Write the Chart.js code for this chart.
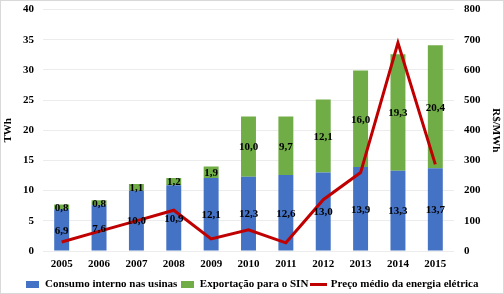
<!DOCTYPE html>
<html>
<head>
<meta charset="utf-8">
<script src="https://cdn.jsdelivr.net/npm/chart.js@4.4.0/dist/chart.umd.min.js"></script>
<style>
  html, body { margin: 0; padding: 0; background: #fff; }
  #wrap { width: 504px; height: 294px; }
</style>
</head>
<body>
<div id="wrap"><canvas id="myChart" width="504" height="294"></canvas></div>
<script>
// data
const years = ['2005', '2006', '2007', '2008', '2009', '2010', '2011', '2012', '2013', '2014', '2015'];
const consumoInterno = [6.9, 7.6, 10.0, 10.9, 12.1, 12.3, 12.6, 13.0, 13.9, 13.3, 13.7];
const exportacaoSin = [0.8, 0.8, 1.1, 1.2, 1.9, 10.0, 9.7, 12.1, 16.0, 19.3, 20.4];
const precoMedio = [30, 65, 100, 135, 40, 70, 27, 170, 260, 690, 287];

const serif = "'Liberation Serif', 'Times New Roman', serif";
const BLUE = '#4472C4', GREEN = '#70AD47', RED = '#C00000';

// little legend markers (rect for bars, thick stroke for the line)
function marker(w, h, color) {
    const c = document.createElement('canvas');
    c.width = w; c.height = h;
    const g = c.getContext('2d');
    g.fillStyle = color;
    g.fillRect(0, 0, w, h);
    return c;
}

// draws the numbers inside each bar segment
const barLabels = {
    id: 'barLabels',
    afterDatasetsDraw(chart) {
        const ctx = chart.ctx;
        ctx.save();
        ctx.font = 'bold 11px ' + serif;
        ctx.fillStyle = '#000';
        ctx.textAlign = 'center';
        ctx.textBaseline = 'middle';
        chart.data.datasets.forEach((ds, i) => {
            if (ds.type === 'line') return;
            chart.getDatasetMeta(i).data.forEach((bar, j) => {
                const txt = ds.data[j].toFixed(1).replace('.', ',');
                ctx.fillText(txt, bar.x, (bar.y + bar.base) / 2 + 1);
            });
        });
        ctx.restore();
    }
};

// light frame around the chart like the original
const frame = {
    id: 'frame',
    beforeDraw(chart) {
        const ctx = chart.ctx;
        ctx.save();
        ctx.fillStyle = '#fff';
        ctx.fillRect(0, 0, chart.width, chart.height);
        ctx.strokeStyle = '#d9d9d9';
        ctx.lineWidth = 1;
        ctx.strokeRect(0.5, 0.5, chart.width - 1, chart.height - 1);
        ctx.restore();
    },
    // nudge the legend row down a bit, closer to the bottom edge
    afterLayout(chart) {
        if (!chart.legend) return;
        chart.legend.top += 6;
        chart.legend.bottom += 6;
    }
};

const tickFont = { family: serif, size: 11, weight: 'bold' };

new Chart(document.getElementById('myChart'), {
    data: {
        labels: years,
        datasets: [
            {
                type: 'line',
                label: 'Preço médio da energia elétrica',
                data: precoMedio,
                yAxisID: 'y1',
                borderColor: RED,
                backgroundColor: RED,
                borderWidth: 3,
                pointRadius: 0,
                tension: 0,
                order: 0
            },
            {
                type: 'bar',
                label: 'Consumo interno nas usinas',
                data: consumoInterno,
                backgroundColor: BLUE,
                barPercentage: 0.4,
                categoryPercentage: 1,
                order: 1
            },
            {
                type: 'bar',
                label: 'Exportação para o SIN',
                data: exportacaoSin,
                backgroundColor: GREEN,
                barPercentage: 0.4,
                categoryPercentage: 1,
                order: 1
            }
        ]
    },
    options: {
        responsive: false,
        animation: false,
        layout: { padding: 0 },
        plugins: {
            legend: {
                position: 'bottom',
                labels: {
                    font: tickFont,
                    color: '#000',
                    usePointStyle: true,
                    pointStyleWidth: 14,
                    boxHeight: 8,
                    padding: 3,
                    generateLabels(chart) {
                        const items = Chart.defaults.plugins.legend.labels.generateLabels(chart);
                        const bars = items.filter(it => chart.data.datasets[it.datasetIndex].type === 'bar');
                        const lines = items.filter(it => chart.data.datasets[it.datasetIndex].type === 'line');
                        bars.forEach(it => {
                            const col = chart.data.datasets[it.datasetIndex].backgroundColor;
                            it.pointStyle = marker(13, 7, col);
                        });
                        lines.forEach(it => { it.pointStyle = marker(17, 3, RED); });
                        return bars.concat(lines);
                    }
                }
            },
            tooltip: { enabled: false }
        },
        scales: {
            x: {
                stacked: true,
                grid: { display: false, drawTicks: false },
                border: { display: false },
                ticks: { color: '#000', font: tickFont, padding: 7 },
                afterFit(scale) { scale.height = 19; }
            },
            y: {
                stacked: true,
                position: 'left',
                min: 0, max: 40,
                ticks: { stepSize: 5, color: '#000', font: tickFont, padding: 3 },
                grid: { color: '#ececec', drawTicks: true, tickLength: 6, tickColor: 'rgba(0,0,0,0)' },
                border: { display: false },
                title: { display: true, text: 'TWh', color: '#000', font: tickFont, padding: 2 },
                afterFit(scale) { scale.width = 43; }
            },
            y1: {
                position: 'right',
                min: 0, max: 800,
                ticks: { stepSize: 100, color: '#000', font: tickFont, padding: 2 },
                grid: { display: false },
                border: { display: false },
                title: { display: true, text: 'R$/MWh', color: '#000', font: tickFont, padding: 2 },
                afterFit(scale) { scale.width = 50; }
            }
        }
    },
    plugins: [frame, barLabels]
});
</script>
</body>
</html>
